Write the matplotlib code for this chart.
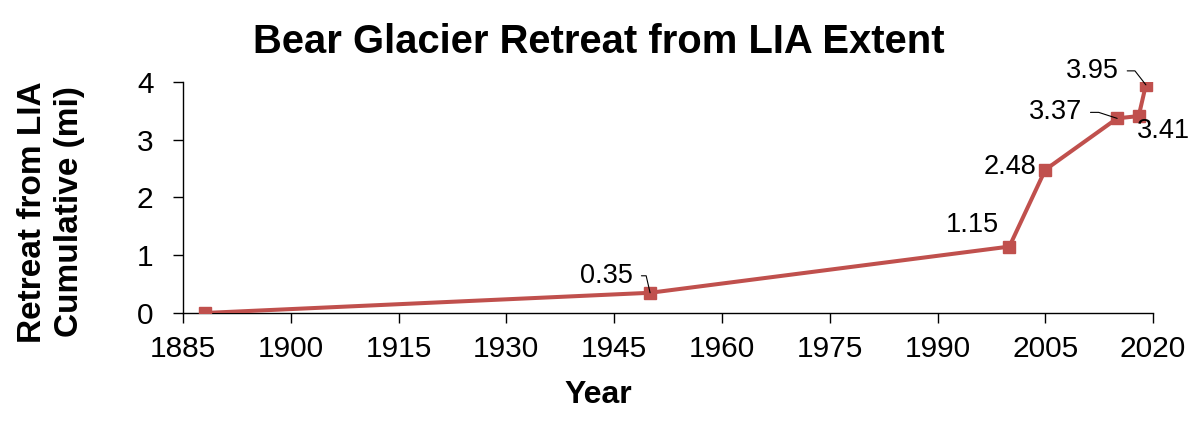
import matplotlib
matplotlib.use("Agg")
import matplotlib.pyplot as plt

years = [1888, 1950, 2000, 2005, 2015, 2018, 2019]
retreat_mi = [0.0, 0.35, 1.15, 2.48, 3.37, 3.41, 3.95]
x_ticks = [1885, 1900, 1915, 1930, 1945, 1960, 1975, 1990, 2005, 2020]
y_ticks = [0, 1, 2, 3, 4]

# label placement (offset in pixels from the point, alignment, leader angle)
labels = [
    (1, (-17, 17), "right", 103),
    (2, (-37, 22), "center", None),
    (3, (-9, 3), "right", None),
    (4, (-35, 6), "right", 162),
    (5, (-2, -15), "left", None),
    (6, (-27, 14), "right", 128),
]

plt.rcParams["font.family"] = ["Liberation Sans", "DejaVu Sans"]

fig = plt.figure(figsize=(11.97, 4.29), dpi=100)
ax = fig.add_axes([0.1529, 0.2704, 0.9633 - 0.1529, 0.8089 - 0.2704])

ax.plot(years, retreat_mi, color="#C0504D", lw=2.9, marker="s", ms=8,
        mfc="#C0504D", mec="#C0504D", zorder=3)

for idx, (dx, dy), ha, ang in labels:
    arrow = None
    if ang is not None:
        arrow = dict(arrowstyle="-", color="black", lw=0.8, relpos=(1, 0.5),
                     shrinkA=4, shrinkB=0,
                     connectionstyle=f"angle,angleA=0,angleB={ang},rad=0")
    ax.annotate(f"{retreat_mi[idx]:.2f}", (years[idx], retreat_mi[idx]),
                xytext=(dx, dy), textcoords="offset pixels",
                ha=ha, va="center", fontsize=19.5, arrowprops=arrow, zorder=4)

ax.set_xlim(1885, 2020)
ax.set_ylim(0, 4)
ax.set_xticks(x_ticks)
ax.set_yticks(y_ticks)
ax.spines["top"].set_visible(False)
ax.spines["right"].set_visible(False)
for s in ("left", "bottom"):
    ax.spines[s].set_linewidth(1.0)
ax.tick_params(axis="both", direction="out", length=7.2, width=1.0, labelsize=21.5)
ax.tick_params(axis="x", pad=9)
ax.tick_params(axis="y", pad=14)

fig.text(0.5, 1 - 42 / 429, "Bear Glacier Retreat from LIA Extent",
         ha="center", va="center", fontsize=28.8, fontweight="bold")
fig.text(0.5, 1 - 395 / 429, "Year", ha="center", va="center",
         fontsize=23, fontweight="bold")
fig.text(51 / 1197, 1 - 212 / 429, "Retreat from LIA\nCumulative (mi)",
         ha="center", va="center", rotation=90, fontsize=24,
         fontweight="bold", linespacing=1.22)

fig.savefig("out.png", dpi=100)
